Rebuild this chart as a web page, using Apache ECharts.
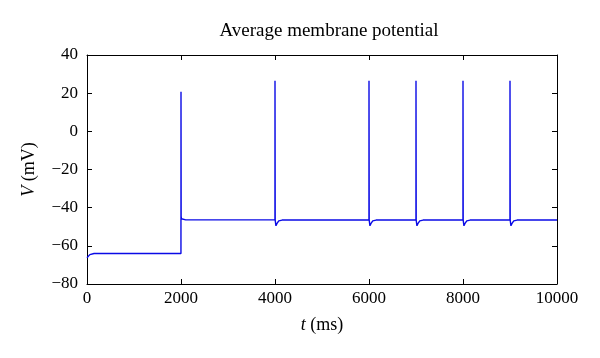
<!DOCTYPE html>
<html>
<head>
<meta charset="utf-8">
<script src="https://cdn.jsdelivr.net/npm/echarts@6/dist/echarts.min.js"></script>
<style>html,body{margin:0;padding:0;background:#fff;}#c{width:600px;height:358px;}</style>
</head>
<body>
<div id="c"></div>
<script>
// Time samples (ms) and membrane potential (mV)
const times = [0, 30, 60, 100, 150, 500, 1000, 1500, 1999,
  2000, 2003, 2010, 2030, 2100, 3000, 3999,
  4000, 4004, 4020, 4040, 4080, 4150, 5000, 5999,
  6000, 6004, 6020, 6040, 6080, 6150, 6999,
  7000, 7004, 7020, 7040, 7080, 7150, 7999,
  8000, 8004, 8020, 8040, 8080, 8150, 8999,
  9000, 9004, 9020, 9040, 9080, 9150, 10000];
const volts = [-66.2, -65.2, -64.6, -64.2, -64.0, -64.0, -64.0, -64.0, -64.0,
  20.8, -44.5, -45.8, -46.3, -46.4, -46.4, -46.4,
  26.5, -46.5, -49.5, -48.4, -46.9, -46.5, -46.5, -46.5,
  26.5, -46.5, -49.5, -48.4, -46.9, -46.5, -46.5,
  26.5, -46.5, -49.5, -48.4, -46.9, -46.5, -46.5,
  26.5, -46.5, -49.5, -48.4, -46.9, -46.5, -46.5,
  26.5, -46.5, -49.5, -48.4, -46.9, -46.5, -46.5];
const xTicks = [0, 2000, 4000, 6000, 8000, 10000];
const yTicks = [-80, -60, -40, -20, 0, 20, 40];

const font = 'Liberation Serif';
const chart = echarts.init(document.getElementById('c'), null, {renderer: 'canvas'});
const fmt = v => String(v).replace('-', '\u2212');
const axisCommon = {
  axisLine: {show: true, onZero: false, lineStyle: {color: '#000', width: 1}},
  axisTick: {show: true, inside: true, length: 5, lineStyle: {color: '#000'}},
  splitLine: {show: false}
};
chart.setOption({
  animation: false,
  title: {
    text: 'Average membrane potential',
    left: 324, top: 17, textAlign: 'center',
    textStyle: {fontFamily: font, fontWeight: 'normal', fontSize: 19, color: '#000'}
  },
  grid: {left: 87, right: 43, top: 55, bottom: 74},
  xAxis: [
    Object.assign({
      type: 'value', min: xTicks[0], max: xTicks[xTicks.length - 1], interval: 2000,
      position: 'bottom',
      name: '{i|t} (ms)', nameLocation: 'middle', nameGap: 32,
      nameTextStyle: {fontFamily: font, fontSize: 18, color: '#000',
        rich: {i: {fontFamily: font, fontStyle: 'italic', fontSize: 18, color: '#000'}}},
      axisLabel: {fontFamily: font, fontSize: 17, color: '#000', margin: 6, formatter: fmt}
    }, axisCommon),
    Object.assign({
      type: 'value', min: xTicks[0], max: xTicks[xTicks.length - 1], interval: 2000,
      position: 'top', axisLabel: {show: false}
    }, axisCommon)
  ],
  yAxis: [
    Object.assign({
      type: 'value', min: yTicks[0], max: yTicks[yTicks.length - 1], interval: 20,
      position: 'left',
      name: '{i|V} (mV)', nameLocation: 'middle', nameGap: 49, nameRotate: 90,
      nameTextStyle: {fontFamily: font, fontSize: 18, color: '#000',
        rich: {i: {fontFamily: font, fontStyle: 'italic', fontSize: 18, color: '#000'}}},
      axisLabel: {fontFamily: font, fontSize: 17, color: '#000', margin: 9, formatter: fmt}
    }, axisCommon),
    Object.assign({
      type: 'value', min: yTicks[0], max: yTicks[yTicks.length - 1], interval: 20,
      position: 'right', axisLabel: {show: false}
    }, axisCommon)
  ],
  series: [{
    type: 'line',
    data: times.map((t, i) => [t, volts[i]]),
    showSymbol: false,
    lineStyle: {color: '#0a0ae6', width: 1.4},
    clip: true
  }]
});
</script>
</body>
</html>
